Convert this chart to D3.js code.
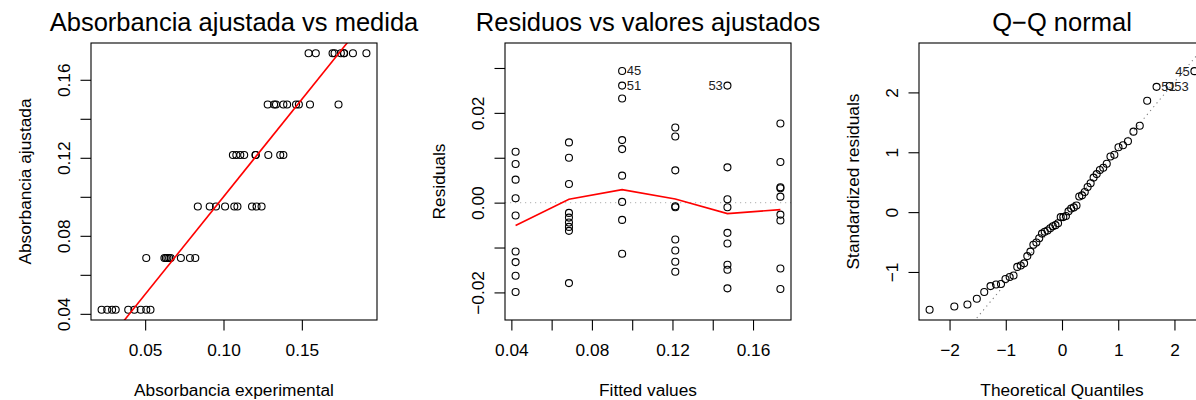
<!DOCTYPE html>
<html>
<head>
<meta charset="utf-8">
<script src="https://cdn.jsdelivr.net/npm/d3@7"></script>
<style>
  html, body { margin: 0; padding: 0; background: #ffffff; }
  svg { display: block; }
</style>
</head>
<body>
<svg id="chart" width="1196" height="400"></svg>
<script>
// Fitted (adjusted) absorbance: one level per standard, 9 replicates each
const ajustada = [0.0421, 0.0686, 0.0950, 0.1214, 0.1473, 0.1736];

// Measured absorbance, grouped by fitted level
const experimental = [
  [0.0534, 0.0507, 0.0472, 0.0431, 0.0392, 0.0312, 0.0289, 0.0258, 0.0222],
  [0.0820, 0.0786, 0.0728, 0.0663, 0.0653, 0.0642, 0.0632, 0.0623, 0.0507],
  [0.1243, 0.1211, 0.1182, 0.1089, 0.1069, 0.1010, 0.0952, 0.0912, 0.0836],
  [0.1382, 0.1362, 0.1286, 0.1206, 0.1204, 0.1132, 0.1107, 0.1082, 0.1060],
  [0.1734, 0.1552, 0.1481, 0.1463, 0.1406, 0.1382, 0.1335, 0.1323, 0.1282],
  [0.1912, 0.1826, 0.1770, 0.1768, 0.1749, 0.1709, 0.1696, 0.1589, 0.1543]
];

// Raw residuals, same grouping
const residuos = [
  [0.01134, 0.00860, 0.00512, 0.00097, -0.00288, -0.01088, -0.01325, -0.01629, -0.01992],
  [0.01342, 0.01001, 0.00416, -0.00229, -0.00333, -0.00444, -0.00540, -0.00629, -0.01792],
  [0.02934, 0.02608, 0.02319, 0.01393, 0.01193, 0.00601, 0.00016, -0.00384, -0.01140],
  [0.01675, 0.01475, 0.00719, -0.00081, -0.00103, -0.00822, -0.01066, -0.01318, -0.01540],
  [0.02608, 0.00786, 0.00075, -0.00103, -0.00673, -0.00910, -0.01384, -0.01496, -0.01910],
  [0.01764, 0.00904, 0.00342, 0.00319, 0.00134, -0.00266, -0.00399, -0.01466, -0.01925]
];

// Standardized residuals, same grouping
const residuosStd = [
  [0.928, 0.704, 0.419, 0.079, -0.236, -0.891, -1.085, -1.334, -1.631],
  [1.084, 0.809, 0.336, -0.185, -0.269, -0.359, -0.436, -0.508, -1.448],
  [2.355, 2.093, 1.861, 1.118, 0.958, 0.482, 0.013, -0.308, -0.915],
  [1.344, 1.184, 0.577, -0.065, -0.083, -0.660, -0.856, -1.058, -1.236],
  [2.107, 0.635, 0.061, -0.083, -0.544, -0.735, -1.118, -1.209, -1.543],
  [1.444, 0.740, 0.280, 0.261, 0.110, -0.218, -0.327, -1.200, -1.576]
];

// Smoothed residual trend at each fitted level
const suavizado = [-0.00511, 0.00075, 0.00289, 0.00082, -0.00244, -0.00156];

// Normal quantiles for 54 ordered observations
const cuantilesTeoricos = [
  -2.355, -1.915, -1.682, -1.515, -1.383, -1.271, -1.173, -1.085, -1.005,
  -0.931, -0.862, -0.796, -0.734, -0.674, -0.617, -0.562, -0.509, -0.456,
  -0.405, -0.356, -0.307, -0.258, -0.210, -0.163, -0.116, -0.070, -0.023,
  0.023, 0.070, 0.116, 0.163, 0.210, 0.258, 0.307, 0.356, 0.405,
  0.456, 0.509, 0.562, 0.617, 0.674, 0.734, 0.796, 0.862, 0.931,
  1.005, 1.085, 1.173, 1.271, 1.383, 1.515, 1.682, 1.915, 2.355
];
const Z75 = 0.6745;

// Observations identified by number: [label, group, position in group]
const observacionesMarcadas = [["45", 2, 0], ["51", 2, 1], ["53", 4, 0]];

// Axis ticks and their labels (empty string = tick without label)
const ticksExpX = [0.05, 0.10, 0.15];
const etiqExpX = ["0.05", "0.10", "0.15"];
const ticksAjus = [0.04, 0.06, 0.08, 0.10, 0.12, 0.14, 0.16];
const etiqAjus = ["0.04", "", "0.08", "", "0.12", "", "0.16"];
const ticksResY = [-0.02, -0.01, 0, 0.01, 0.02, 0.03];
const etiqResY = ["\u22120.02", "", "0.00", "", "0.02", ""];
const ticksTeoX = [-2, -1, 0, 1, 2];
const etiqTeoX = ["\u22122", "\u22121", "0", "1", "2"];
const ticksStdY = [-1, 0, 1, 2];
const etiqStdY = ["\u22121", "0", "1", "2"];

const titulos = ["Absorbancia ajustada vs medida", "Residuos vs valores ajustados", "Q\u2212Q normal"];
const titulosX = ["Absorbancia experimental", "Fitted values", "Theoretical Quantiles"];
const titulosY = ["Absorbancia ajustada", "Residuals", "Standardized residuals"];

// ---- layout ----
const FUENTE = '"Liberation Sans", Arial, Helvetica, sans-serif';
const ANCHO_PANEL = 414, IZQ = 91, ANCHO = 286, ARRIBA = 43, ABAJO = 320;
const TAM_EJE = 17.3, TAM_TITULO = 25.5, TAM_ID = 13;
const LARGO_TICK = 10.5;
const RADIO = 3.5;

const svg = d3.select("#chart").attr("font-family", FUENTE);

function extender([a, b], f = 0.04) {
  const d = b - a;
  return [a - f * d, b + f * d];
}

function crearPanel(i) {
  const g = svg.append("g").attr("transform", `translate(${i * ANCHO_PANEL + IZQ},0)`);
  const id = "clip" + i;
  g.append("clipPath").attr("id", id)
    .append("rect").attr("x", 0).attr("y", ARRIBA)
    .attr("width", ANCHO).attr("height", ABAJO - ARRIBA);
  const area = g.append("g").attr("clip-path", `url(#${id})`);
  return { g, area };
}

function ejeInferior(g, escala, valores, etiquetas) {
  const eje = d3.axisBottom(escala).tickValues(valores)
    .tickSize(LARGO_TICK).tickSizeOuter(0)
    .tickFormat((d, i) => etiquetas[i]);
  const a = g.append("g").attr("transform", `translate(0,${ABAJO})`).call(eje);
  a.select(".domain").remove();
  a.selectAll(".tick line").attr("stroke", "#000").attr("stroke-width", 1.1);
  a.selectAll(".tick text")
    .attr("y", 36).attr("dy", null)
    .attr("fill", "#000").attr("font-size", TAM_EJE).attr("font-family", FUENTE);
}

function ejeIzquierdo(g, escala, valores, etiquetas, sep) {
  const eje = d3.axisLeft(escala).tickValues(valores)
    .tickSize(LARGO_TICK).tickSizeOuter(0)
    .tickFormat((d, i) => etiquetas[i]);
  const a = g.append("g").call(eje);
  a.select(".domain").remove();
  a.selectAll(".tick line").attr("stroke", "#000").attr("stroke-width", 1.1);
  a.selectAll(".tick text")
    .attr("x", 0).attr("y", 0).attr("dy", null)
    .attr("transform", `translate(${-sep},0) rotate(-90)`)
    .attr("text-anchor", "middle")
    .attr("fill", "#000").attr("font-size", TAM_EJE).attr("font-family", FUENTE);
}

function marco(g, i, sepY) {
  g.append("rect").attr("x", 0).attr("y", ARRIBA)
    .attr("width", ANCHO).attr("height", ABAJO - ARRIBA)
    .attr("fill", "none").attr("stroke", "#000").attr("stroke-width", 1.1);
  g.append("text").attr("x", ANCHO / 2).attr("y", 31)
    .attr("text-anchor", "middle").attr("font-size", TAM_TITULO).attr("fill", "#000")
    .text(titulos[i]);
  g.append("text").attr("x", ANCHO / 2).attr("y", 395.5)
    .attr("text-anchor", "middle").attr("font-size", TAM_EJE).attr("fill", "#000")
    .text(titulosX[i]);
  g.append("text")
    .attr("transform", `translate(${-sepY},${(ARRIBA + ABAJO) / 2}) rotate(-90)`)
    .attr("text-anchor", "middle").attr("font-size", TAM_EJE).attr("fill", "#000")
    .text(titulosY[i]);
}

function circulos(area, datos, fx, fy) {
  area.selectAll(null).data(datos).join("circle")
    .attr("cx", fx).attr("cy", fy).attr("r", RADIO)
    .attr("fill", "none").attr("stroke", "#000").attr("stroke-width", 1.1);
}

// Identification labels: right of the point on the left half, left of it otherwise
function rotular(g, puntos) {
  const xs = puntos.map(p => p.x);
  const medio = (d3.min(xs) + d3.max(xs)) / 2;
  g.selectAll(null).data(puntos).join("text")
    .attr("x", p => p.x > medio ? p.x - 4.6 : p.x + 4.6)
    .attr("y", p => p.y).attr("dy", "0.35em")
    .attr("text-anchor", p => p.x > medio ? "end" : "start")
    .attr("font-size", TAM_ID).attr("fill", "#222")
    .text(p => p.texto);
}

// ---- Panel 1: adjusted vs measured absorbance ----
{
  const { g, area } = crearPanel(0);
  const puntos = experimental.flatMap((grp, gi) => grp.map(v => ({ x: v, y: ajustada[gi] })));
  const x = d3.scaleLinear().domain(extender(d3.extent(puntos, d => d.x))).range([0, ANCHO]);
  const y = d3.scaleLinear().domain(extender(d3.extent(ajustada))).range([ABAJO, ARRIBA]);

  circulos(area, puntos, d => x(d.x), d => y(d.y));

  // identity line y = x
  const lim = x.domain();
  area.append("line")
    .attr("x1", x(lim[0])).attr("y1", y(lim[0]))
    .attr("x2", x(lim[1])).attr("y2", y(lim[1]))
    .attr("stroke", "#ff0000").attr("stroke-width", 1.6);

  ejeInferior(g, x, ticksExpX, etiqExpX);
  ejeIzquierdo(g, y, ticksAjus, etiqAjus, 21);
  marco(g, 0, 60);
}

// ---- Panel 2: residuals vs fitted values ----
{
  const { g, area } = crearPanel(1);
  const puntos = residuos.flatMap((grp, gi) => grp.map(v => ({ x: ajustada[gi], y: v })));
  const x = d3.scaleLinear().domain(extender(d3.extent(ajustada))).range([0, ANCHO]);
  const y = d3.scaleLinear()
    .domain(extender(extender(d3.extent(puntos, d => d.y), 0.08)))
    .range([ABAJO, ARRIBA]);

  // zero reference
  area.append("line")
    .attr("x1", 0).attr("x2", ANCHO).attr("y1", y(0)).attr("y2", y(0))
    .attr("stroke", "#bebebe").attr("stroke-width", 1.1)
    .attr("stroke-dasharray", "1.2,3.8");

  circulos(area, puntos, d => x(d.x), d => y(d.y));

  area.append("path")
    .datum(ajustada.map((v, i) => [v, suavizado[i]]))
    .attr("d", d3.line().x(d => x(d[0])).y(d => y(d[1])))
    .attr("fill", "none").attr("stroke", "#ff0000").attr("stroke-width", 1.6);

  rotular(g, observacionesMarcadas.map(([t, gi, k]) => ({
    texto: t, x: x(ajustada[gi]), y: y(residuos[gi][k])
  })));

  ejeInferior(g, x, ticksAjus, etiqAjus);
  ejeIzquierdo(g, y, ticksResY, etiqResY, 21);
  marco(g, 1, 60);
}

// ---- Panel 3: normal Q-Q of standardized residuals ----
{
  const { g, area } = crearPanel(2);
  const obs = residuosStd.flatMap((grp, gi) => grp.map((v, k) => ({ v, gi, k })));
  const ordenados = d3.sort(obs, d => d.v);
  ordenados.forEach((d, i) => { d.q = cuantilesTeoricos[i]; });

  const x = d3.scaleLinear().domain(extender(d3.extent(cuantilesTeoricos))).range([0, ANCHO]);
  const ext = d3.extent(ordenados, d => d.v);
  ext[1] += 0.075 * (ext[1] - ext[0]);
  const y = d3.scaleLinear().domain(extender(ext)).range([ABAJO, ARRIBA]);

  // reference line through the quartiles
  const valores = ordenados.map(d => d.v);
  const q1 = d3.quantile(valores, 0.25), q3 = d3.quantile(valores, 0.75);
  const pendiente = (q3 - q1) / (2 * Z75);
  const intercepto = q1 + pendiente * Z75;
  const [xa, xb] = x.domain();
  area.append("line")
    .attr("x1", x(xa)).attr("y1", y(intercepto + pendiente * xa))
    .attr("x2", x(xb)).attr("y2", y(intercepto + pendiente * xb))
    .attr("stroke", "#7f7f7f").attr("stroke-width", 1.1)
    .attr("stroke-dasharray", "1.2,3.8");

  circulos(area, ordenados, d => x(d.q), d => y(d.v));

  rotular(g, observacionesMarcadas.map(([t, gi, k]) => {
    const d = ordenados.find(o => o.gi === gi && o.k === k);
    return { texto: t, x: x(d.q), y: y(d.v) };
  }));

  ejeInferior(g, x, ticksTeoX, etiqTeoX);
  ejeIzquierdo(g, y, ticksStdY, etiqStdY, 21);
  marco(g, 2, 60);
}
</script>
</body>
</html>
